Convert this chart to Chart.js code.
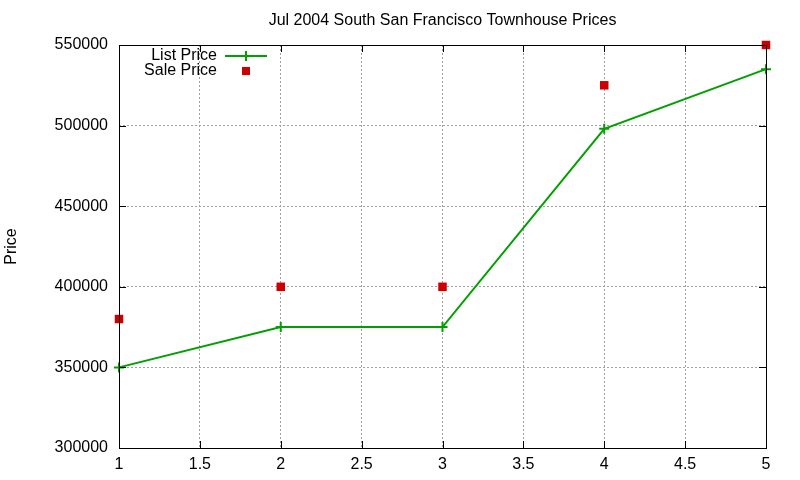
<!DOCTYPE html>
<html>
<head>
<meta charset="utf-8">
<script src="https://cdn.jsdelivr.net/npm/chart.js@4"></script>
<style>
  html, body { margin: 0; padding: 0; background: #fff; }
  #wrap { width: 800px; height: 480px; }
</style>
</head>
<body>
<div id="wrap"><canvas id="priceChart" width="800" height="480"></canvas></div>
<script>
// data
const X_VALUES = [1, 2, 3, 4, 5];
const LIST_PRICE = [350000, 375000, 375000, 498000, 535000];
const SALE_PRICE = [380000, 400000, 400000, 525000, 550000];
const SERIES_NAMES = ['List Price', 'Sale Price'];
const TITLE = 'Jul 2004 South San Francisco Townhouse Prices';
const Y_TITLE = 'Price';

const FONT = 'Liberation Sans, Arial, sans-serif';
const GREEN = '#00a000';
const RED = '#cc0000';

function toPoints(ys) {
    return X_VALUES.map((x, i) => ({ x: x, y: ys[i] }));
}

// frame, inward ticks, title, y label and the gnuplot-style key
const framePlugin = {
    id: 'frame',
    afterDatasetsDraw(chart) {
        const { ctx, chartArea: a, scales } = chart;
        ctx.save();
        ctx.strokeStyle = '#000';
        ctx.lineWidth = 1;
        ctx.strokeRect(a.left + 0.5, a.top + 0.5, a.right - a.left, a.bottom - a.top);
        ctx.beginPath();
        scales.y.ticks.forEach(t => {
            const py = Math.round(scales.y.getPixelForValue(t.value)) + 0.5;
            ctx.moveTo(a.left, py); ctx.lineTo(a.left + 7, py);
            ctx.moveTo(a.right, py); ctx.lineTo(a.right - 7, py);
        });
        scales.x.ticks.forEach(t => {
            const px = Math.round(scales.x.getPixelForValue(t.value)) + 0.5;
            ctx.moveTo(px, a.bottom); ctx.lineTo(px, a.bottom - 7);
            ctx.moveTo(px, a.top); ctx.lineTo(px, a.top + 7);
        });
        ctx.stroke();

        ctx.font = '16px ' + FONT;
        ctx.fillStyle = '#000';
        ctx.textBaseline = 'middle';

        // title centred over the plot
        ctx.textAlign = 'center';
        ctx.fillText(TITLE, (a.left + a.right) / 2, 21);

        // y axis title
        ctx.save();
        ctx.translate(12, (a.top + a.bottom) / 2);
        ctx.rotate(-Math.PI / 2);
        ctx.fillText(Y_TITLE, 0, 0);
        ctx.restore();

        // key
        ctx.textAlign = 'right';
        ctx.fillText(SERIES_NAMES[0], 217, 56);
        ctx.fillText(SERIES_NAMES[1], 217, 71);
        ctx.strokeStyle = GREEN;
        ctx.lineWidth = 2;
        ctx.beginPath();
        ctx.moveTo(225, 56); ctx.lineTo(267, 56);
        ctx.moveTo(246, 51); ctx.lineTo(246, 61);
        ctx.stroke();
        ctx.fillStyle = RED;
        ctx.fillRect(242, 67, 8, 8);
        ctx.restore();
    }
};

const ctx = document.getElementById('priceChart').getContext('2d');
new Chart(ctx, {
    type: 'line',
    data: {
        datasets: [
            {
                label: SERIES_NAMES[0],
                data: toPoints(LIST_PRICE),
                borderColor: GREEN,
                backgroundColor: GREEN,
                borderWidth: 2,
                pointStyle: 'cross',
                pointRadius: 5,
                pointBorderWidth: 2,
                fill: false,
                tension: 0
            },
            {
                label: SERIES_NAMES[1],
                data: toPoints(SALE_PRICE),
                showLine: false,
                pointStyle: 'rect',
                pointRadius: 6,
                pointBorderWidth: 0,
                backgroundColor: RED,
                borderColor: RED
            }
        ]
    },
    options: {
        responsive: false,
        animation: false,
        clip: false,
        layout: { padding: { left: 0, right: 34, top: 45, bottom: 0 } },
        plugins: {
            legend: { display: false },
            tooltip: { enabled: false },
            title: { display: false }
        },
        scales: {
            x: {
                type: 'linear',
                min: 1,
                max: 5,
                ticks: {
                    stepSize: 0.5,
                    color: '#000',
                    font: { family: FONT, size: 16 },
                    padding: 7,
                    maxRotation: 0,
                    callback: v => String(v)
                },
                grid: { color: '#a0a0a0', drawTicks: false },
                border: { display: false, dash: [2, 2] },
                afterFit(scale) { scale.height = 32; }
            },
            y: {
                min: 300000,
                max: 550000,
                ticks: {
                    stepSize: 50000,
                    color: '#000',
                    font: { family: FONT, size: 16 },
                    padding: 11,
                    callback: v => String(v)
                },
                grid: { color: '#a0a0a0', drawTicks: false },
                border: { display: false, dash: [2, 2] },
                afterFit(scale) { scale.width = 119; }
            }
        }
    },
    plugins: [framePlugin]
});
</script>
</body>
</html>
